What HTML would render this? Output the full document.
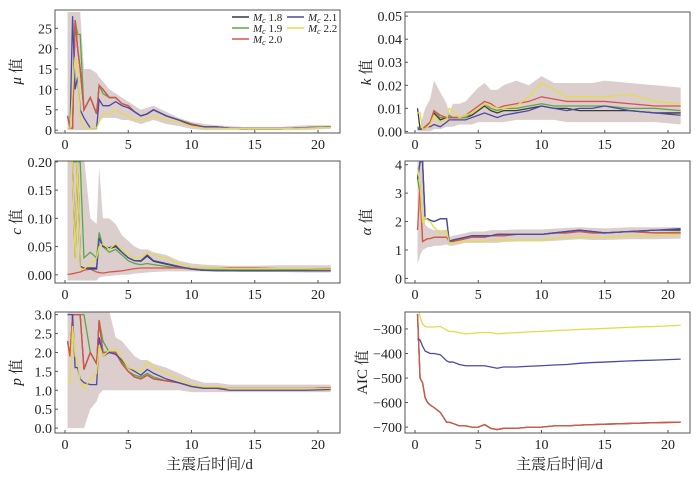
<!DOCTYPE html>
<html><head><meta charset="utf-8">
<style>
body{margin:0;background:#fff;}
svg text{font-family:"Liberation Serif","Noto Serif CJK SC",serif;fill:#222;}
</style></head>
<body>
<svg id="fig" width="700" height="476" viewBox="0 0 700 476" xmlns="http://www.w3.org/2000/svg"></svg>
<script>
// shared time axis (days)
const times=[0.2,0.4,0.6,0.8,1.0,1.2,1.5,2.0,2.5,2.7,3.0,3.5,4.0,4.5,5.0,5.5,6.0,6.5,7.0,8.0,9.0,10.0,11.0,12.0,13.0,14.0,15.0,17.0,19.0,21.0];
const seriesNames=["Mc 1.8","Mc 1.9","Mc 2.0","Mc 2.1","Mc 2.2"];
const xTicks=[0,5,10,15,20];
// mu
const muBlack=[3.5,0.5,0.5,27,20,15,5,8,4,11,10,8,8,6.5,6,4.5,3.5,4,5,3.5,2.5,1.5,0.8,0.8,0.5,0.4,0.4,0.4,0.6,0.8];
const muGreen=[3.5,0.5,0.5,27,23.5,23.5,5,8,4,11,9,8,8,6.5,6,4.5,3.5,4,5,3.5,2.5,1.5,0.8,0.8,0.5,0.4,0.4,0.4,0.6,0.8];
const muRed=[3.5,0.5,0.5,27,20,15,5,8,4,11,10,8,8,6.5,6,4.5,3.5,4,5,3.5,2.5,1.5,0.8,0.8,0.5,0.4,0.4,0.4,0.6,0.8];
const muBlue=[0.5,0.5,28,10,13,5,3,0.5,0.5,7.5,6,6,7,6,5.5,4.5,3.5,4,5,3.5,2.5,1.2,0.8,0.8,0.5,0.4,0.4,0.4,0.6,0.8];
const muYellow=[0.5,0.5,10,18,15,3,0.5,0.5,0.5,2,4,4,5,4,3.5,2.5,2.5,3,3.5,2.5,2,1,0.5,0.5,0.4,0.4,0.4,0.4,0.5,0.7];
const muUpper=[29,29,29,29,29,29,15,15,14,13,12,10,9,8,7,6,5,5.5,6,4.5,3,2,1.5,1.2,1,0.8,0.8,0.8,1.2,1.2];
const muLower=[0,0,0,0,0,0,0,0,0,2,3,3,3,2.5,2.5,2,1.5,2,2.5,1.5,1,0.3,0,0,0,0,0,0,0,0.3];
const muTicks=[0,5,10,15,20,25];
// k
const kBlack=[0.01,0.001,0.001,0.002,0.003,0.004,0.008,0.005,0.006,0.006,0.006,0.006,0.006,0.007,0.009,0.011,0.009,0.008,0.009,0.009,0.010,0.011,0.010,0.010,0.009,0.009,0.009,0.009,0.008,0.008];
const kGreen=[0.002,0.001,0.001,0.002,0.003,0.004,0.009,0.006,0.006,0.007,0.006,0.006,0.006,0.008,0.010,0.012,0.010,0.009,0.010,0.010,0.011,0.012,0.011,0.011,0.011,0.011,0.011,0.010,0.010,0.009];
const kRed=[0.001,0.001,0.001,0.002,0.003,0.004,0.009,0.007,0.006,0.006,0.006,0.006,0.007,0.009,0.011,0.013,0.012,0.010,0.011,0.012,0.013,0.015,0.014,0.013,0.013,0.013,0.013,0.012,0.011,0.011];
const kBlue=[0.001,0.001,0.001,0.001,0.002,0.002,0.003,0.002,0.004,0.005,0.005,0.005,0.005,0.006,0.007,0.008,0.007,0.006,0.007,0.008,0.009,0.011,0.010,0.009,0.010,0.010,0.011,0.009,0.008,0.007];
const kYellow=[0.008,0.008,0.001,0.001,0.002,0.003,0.007,0.004,0.005,0.010,0.009,0.006,0.007,0.008,0.010,0.012,0.011,0.010,0.010,0.011,0.015,0.021,0.018,0.015,0.015,0.015,0.015,0.016,0.013,0.012];
const kUpper=[0.002,0.002,0.006,0.010,0.012,0.014,0.022,0.017,0.012,0.008,0.012,0.012,0.013,0.016,0.019,0.021,0.018,0.018,0.020,0.022,0.020,0.024,0.021,0.021,0.021,0.021,0.022,0.021,0.020,0.019];
const kLower=[0,0,0,0,0,0,0.001,0.001,0.002,0.002,0.002,0.003,0.003,0.003,0.004,0.004,0.004,0.004,0.004,0.005,0.005,0.005,0.005,0.004,0.004,0.004,0.004,0.004,0.004,0.003];
const kTicks=[0,0.01,0.02,0.03,0.04,0.05];
// c
const cBlack=[0.2,0.2,0.2,0.03,0.2,0.015,0.012,0.012,0.012,0.065,0.05,0.046,0.05,0.04,0.03,0.025,0.024,0.033,0.024,0.019,0.014,0.01,0.008,0.008,0.008,0.008,0.008,0.008,0.008,0.008];
const cGreen=[0.2,0.2,0.2,0.2,0.2,0.2,0.03,0.04,0.03,0.075,0.05,0.04,0.045,0.035,0.025,0.02,0.018,0.02,0.018,0.015,0.012,0.01,0.009,0.009,0.009,0.009,0.009,0.009,0.009,0.008];
const cRed=[0.001,0.001,0.002,0.003,0.004,0.005,0.008,0.01,0.005,0.004,0.003,0.005,0.006,0.007,0.009,0.011,0.012,0.012,0.012,0.012,0.012,0.012,0.012,0.012,0.012,0.012,0.012,0.011,0.011,0.011];
const cBlue=[0.2,0.2,0.2,0.03,0.2,0.015,0.012,0.01,0.01,0.065,0.05,0.048,0.052,0.04,0.03,0.025,0.025,0.035,0.025,0.02,0.015,0.01,0.008,0.007,0.007,0.007,0.007,0.007,0.007,0.007];
const cYellow=[0.2,0.2,0.2,0.028,0.2,0.01,0.01,0.02,0.03,0.05,0.055,0.045,0.055,0.045,0.035,0.03,0.03,0.04,0.035,0.03,0.02,0.013,0.012,0.012,0.011,0.011,0.011,0.011,0.011,0.01];
const cUpper=[0.21,0.21,0.21,0.21,0.21,0.21,0.21,0.1,0.09,0.19,0.1,0.1,0.09,0.07,0.06,0.05,0.045,0.045,0.04,0.035,0.025,0.02,0.018,0.017,0.016,0.016,0.016,0.017,0.017,0.017];
const cLower=[-0.01,-0.01,-0.01,-0.01,-0.01,-0.01,-0.01,-0.01,-0.01,-0.005,-0.003,-0.002,-0.001,0,0,0.002,0.003,0.004,0.005,0.006,0.006,0.006,0.006,0.006,0.006,0.005,0.005,0.005,0.004,0.004];
const cTicks=[0,0.05,0.1,0.15,0.2];
// alpha
const aBlack=[3.5,4.1,4.1,2.1,2.1,2.05,2.0,2.1,2.1,1.3,1.35,1.4,1.45,1.5,1.5,1.5,1.5,1.55,1.55,1.55,1.55,1.55,1.6,1.65,1.7,1.65,1.6,1.65,1.7,1.7];
const aGreen=[3.5,3.0,1.3,1.35,1.4,1.4,1.45,1.45,1.45,1.3,1.3,1.35,1.4,1.45,1.45,1.45,1.5,1.5,1.5,1.55,1.55,1.55,1.6,1.6,1.65,1.6,1.6,1.65,1.6,1.62];
const aRed=[1.7,3.3,1.3,1.35,1.4,1.4,1.45,1.45,1.45,1.3,1.3,1.35,1.4,1.45,1.45,1.45,1.5,1.5,1.5,1.55,1.55,1.55,1.6,1.6,1.65,1.6,1.6,1.65,1.6,1.6];
const aBlue=[3.5,4.1,4.1,2.1,2.1,2.05,2.0,2.1,2.1,1.3,1.35,1.4,1.45,1.5,1.5,1.5,1.5,1.55,1.55,1.55,1.55,1.55,1.6,1.65,1.7,1.65,1.6,1.65,1.7,1.75];
const aYellow=[3.9,3.3,1.95,2.15,2.05,2.0,1.8,1.6,1.7,1.25,1.25,1.3,1.3,1.3,1.3,1.3,1.35,1.35,1.35,1.35,1.35,1.35,1.4,1.45,1.45,1.45,1.45,1.5,1.5,1.55];
const aUpper=[4.1,4.1,4.1,1.9,1.8,1.75,1.7,1.7,1.7,1.45,1.5,1.55,1.6,1.65,1.65,1.65,1.7,1.7,1.7,1.72,1.72,1.72,1.75,1.78,1.8,1.78,1.76,1.8,1.8,1.8];
const aLower=[0.5,0.8,1.0,1.05,1.1,1.1,1.15,1.15,1.2,1.15,1.15,1.2,1.25,1.25,1.25,1.25,1.25,1.25,1.28,1.3,1.3,1.3,1.32,1.35,1.38,1.35,1.35,1.38,1.38,1.4];
const aTicks=[0,1,2,3,4];
// p
const pBlack=[2.3,1.9,3.0,3.0,3.0,3.0,1.55,2.0,1.7,2.85,2.0,2.0,2.0,1.7,1.5,1.35,1.3,1.4,1.3,1.25,1.2,1.1,1.05,1.05,1.05,1.05,1.05,1.05,1.05,1.07];
const pGreen=[2.3,1.9,3.0,3.0,3.0,3.0,3.0,2.0,1.7,2.85,2.3,2.0,2.0,1.75,1.5,1.4,1.35,1.45,1.35,1.25,1.2,1.1,1.05,1.05,1.05,1.05,1.05,1.05,1.05,1.07];
const pRed=[2.3,1.9,3.0,3.0,3.0,3.0,1.55,2.0,1.7,2.85,2.0,2.0,2.0,1.7,1.5,1.35,1.3,1.4,1.3,1.25,1.2,1.1,1.05,1.05,1.05,1.05,1.05,1.05,1.05,1.07];
const pBlue=[3.0,3.0,3.0,1.6,1.6,1.3,1.2,1.15,1.15,2.4,1.9,2.0,1.95,1.8,1.6,1.5,1.4,1.55,1.45,1.3,1.2,1.1,1.05,1.05,1.0,1.0,1.0,1.0,1.0,1.02];
const pYellow=[1.2,1.2,2.7,1.9,1.8,1.2,1.05,1.3,1.45,2.2,1.9,2.05,2.1,1.85,1.6,1.55,1.5,1.75,1.6,1.45,1.3,1.15,1.1,1.1,1.05,1.05,1.05,1.05,1.05,1.05];
const pUpper=[3.1,3.1,3.1,3.1,3.1,3.1,3.1,3.1,3.1,3.1,3.1,3.1,2.4,2.3,2.1,1.9,1.8,1.8,1.7,1.6,1.45,1.3,1.2,1.2,1.15,1.15,1.15,1.15,1.15,1.15];
const pLower=[0,0,0,0,0,0,0,0.5,0.7,0.9,1.0,1.0,1.0,1.0,1.0,1.0,1.0,1.0,1.0,1.0,1.0,0.95,0.95,0.95,0.95,0.95,0.95,0.95,0.95,0.95];
const pTicks=[0,0.5,1,1.5,2,2.5,3];
// AIC
const aicBlack=[-240,-500,-520,-580,-600,-610,-620,-640,-680,-680,-685,-695,-695,-700,-700,-690,-705,-710,-705,-705,-700,-700,-695,-695,-692,-690,-688,-685,-682,-680];
const aicGreen=[-240,-500,-520,-580,-600,-610,-620,-640,-680,-680,-685,-695,-695,-700,-700,-690,-705,-710,-705,-705,-700,-700,-695,-695,-692,-690,-688,-685,-682,-680];
const aicRed=[-240,-500,-520,-580,-600,-610,-620,-640,-680,-680,-685,-695,-695,-700,-700,-690,-705,-710,-705,-705,-700,-700,-695,-695,-692,-690,-688,-685,-682,-680];
const aicBlue=[-340,-345,-370,-390,-395,-400,-400,-405,-430,-435,-435,-445,-450,-450,-450,-450,-455,-460,-455,-455,-452,-450,-447,-445,-440,-437,-435,-430,-427,-423];
const aicYellow=[-200,-250,-280,-290,-292,-292,-292,-290,-305,-310,-310,-315,-320,-318,-315,-315,-315,-320,-318,-315,-312,-310,-307,-305,-302,-300,-298,-293,-290,-285];
const aicTicks=[-700,-600,-500,-400,-300];

const colors=["#3a3a3a","#5aa845","#d9534a","#4a4aa8","#e3dc4a"];
const NS="http://www.w3.org/2000/svg";
const svg=document.getElementById("fig");
function mk(tag,attrs,parent){const e=document.createElementNS(NS,tag);for(const k in attrs)e.setAttribute(k,attrs[k]);(parent||svg).appendChild(e);return e;}

const panels=[
 {id:"mu",x0:55,x1:340,y0:10,y1:133,ymin:-0.7,ymax:29.5,ticks:muTicks,fmt:v=>v,series:[muBlack,muGreen,muRed,muBlue,muYellow],up:muUpper,lo:muLower,lab:"μ",labTxt:" 值",xlab:false},
 {id:"k",x0:405,x1:690,y0:12,y1:133,ymin:-0.0007,ymax:0.0518,ticks:kTicks,fmt:v=>v.toFixed(2),series:[kBlack,kGreen,kRed,kBlue,kYellow],up:kUpper,lo:kLower,lab:"k",labTxt:" 值",xlab:false},
 {id:"c",x0:55,x1:340,y0:161,y1:283,ymin:-0.0145,ymax:0.2015,ticks:cTicks,fmt:v=>v.toFixed(2),series:[cBlack,cGreen,cRed,cBlue,cYellow],up:cUpper,lo:cLower,lab:"c",labTxt:" 值",xlab:false},
 {id:"alpha",x0:405,x1:690,y0:161,y1:283,ymin:-0.16,ymax:4.13,ticks:aTicks,fmt:v=>v,series:[aBlack,aGreen,aRed,aBlue,aYellow],up:aUpper,lo:aLower,lab:"α",labTxt:" 值",xlab:false},
 {id:"p",x0:55,x1:340,y0:312,y1:433,ymin:-0.13,ymax:3.07,ticks:pTicks,fmt:v=>v.toFixed(1),series:[pBlack,pGreen,pRed,pBlue,pYellow],up:pUpper,lo:pLower,lab:"p",labTxt:" 值",xlab:true},
 {id:"aic",x0:405,x1:690,y0:312,y1:433,ymin:-724,ymax:-231,ticks:aicTicks,fmt:v=>"−"+Math.abs(v),series:[aicBlack,aicGreen,aicRed,aicBlue,aicYellow],up:null,lo:null,lab:"",labTxt:"AIC 值",xlab:true}
];

panels.forEach((P,pi)=>{
  const xs=v=>P.x0+10+(v/20)*253;
  const ys=v=>P.y1-(v-P.ymin)/(P.ymax-P.ymin)*(P.y1-P.y0);
  const g=mk("g",{});
  
  
  const cid="clip"+pi;
  const cp=mk("clipPath",{id:cid},g);mk("rect",{x:P.x0,y:P.y0,width:P.x1-P.x0,height:P.y1-P.y0},cp);
  const plot=mk("g",{"clip-path":"url(#"+cid+")"},g);
  if(P.up){
    let d="M"+times.map((t,i)=>xs(t)+","+ys(P.up[i])).join("L");
    for(let i=times.length-1;i>=0;i--)d+="L"+xs(times[i])+","+ys(P.lo[i]);
    const band=mk("path",{d:d+"Z",fill:"#d9c9c9",opacity:"0.9"},plot);
    
    
  }
  P.series.forEach((s,si)=>{
    const l=mk("polyline",{points:times.map((t,i)=>xs(t)+","+ys(s[i])).join(" "),fill:"none",stroke:colors[si],"stroke-width":"1.3"},plot);
    
    
  });
  const fr=mk("rect",{x:P.x0,y:P.y0,width:P.x1-P.x0,height:P.y1-P.y0,fill:"none",stroke:"#555","stroke-width":"1"},g);
  
  
  xTicks.forEach(t=>{
    mk("line",{x1:xs(t),x2:xs(t),y1:P.y1,y2:P.y1-3,stroke:"#555"},g);
    const tx=mk("text",{x:xs(t),y:P.y1+16,"text-anchor":"middle","font-size":"14"},g);
    tx.textContent=t;
    
    
  });
  P.ticks.forEach(t=>{
    mk("line",{x1:P.x0,x2:P.x0+3,y1:ys(t),y2:ys(t),stroke:"#555"},g);
    const tx=mk("text",{x:P.x0-3,y:ys(t)+5,"text-anchor":"end","font-size":"14"},g);
    tx.textContent=P.fmt(t);
    
    
  });
  const cy=(P.y0+P.y1)/2, lx=P.x0-(P.id==="aic"?38:34);
  const yl=mk("text",{x:lx,y:cy,"text-anchor":"middle","font-size":"15",transform:"rotate(-90 "+lx+" "+cy+")"},g);
  
  
  if(P.lab){const ts=mk("tspan",{"font-style":"italic"},yl);ts.textContent=P.lab;}
  const ts2=mk("tspan",{},yl);ts2.textContent=P.labTxt;
  if(P.xlab){
    const xl=mk("text",{x:(P.x0+P.x1)/2+12,y:469,"text-anchor":"middle","font-size":"15"},g);
    xl.textContent="主震后时间/d";
    
    
  }
});

// legend
const lg=mk("g",{});


const legPos=[[232,21],[232,32],[232,43],[287,21],[287,32]];
seriesNames.forEach((n,i)=>{
  const [x,y]=legPos[i];
  const e=mk("g",{},lg);
  
  
  mk("line",{x1:x,x2:x+17,y1:y-4,y2:y-4,stroke:colors[i],"stroke-width":"1.5"},e);
  const t=mk("text",{x:x+21,y:y,"font-size":"11"},e);
  const m=mk("tspan",{"font-style":"italic"},t);m.textContent="M";
  const c=mk("tspan",{"font-style":"italic","font-size":"8",dy:"2"},t);c.textContent="c";
  const v=mk("tspan",{dy:"-2"},t);v.textContent=" "+n.split(" ")[1];
});
</script>
</body></html>
